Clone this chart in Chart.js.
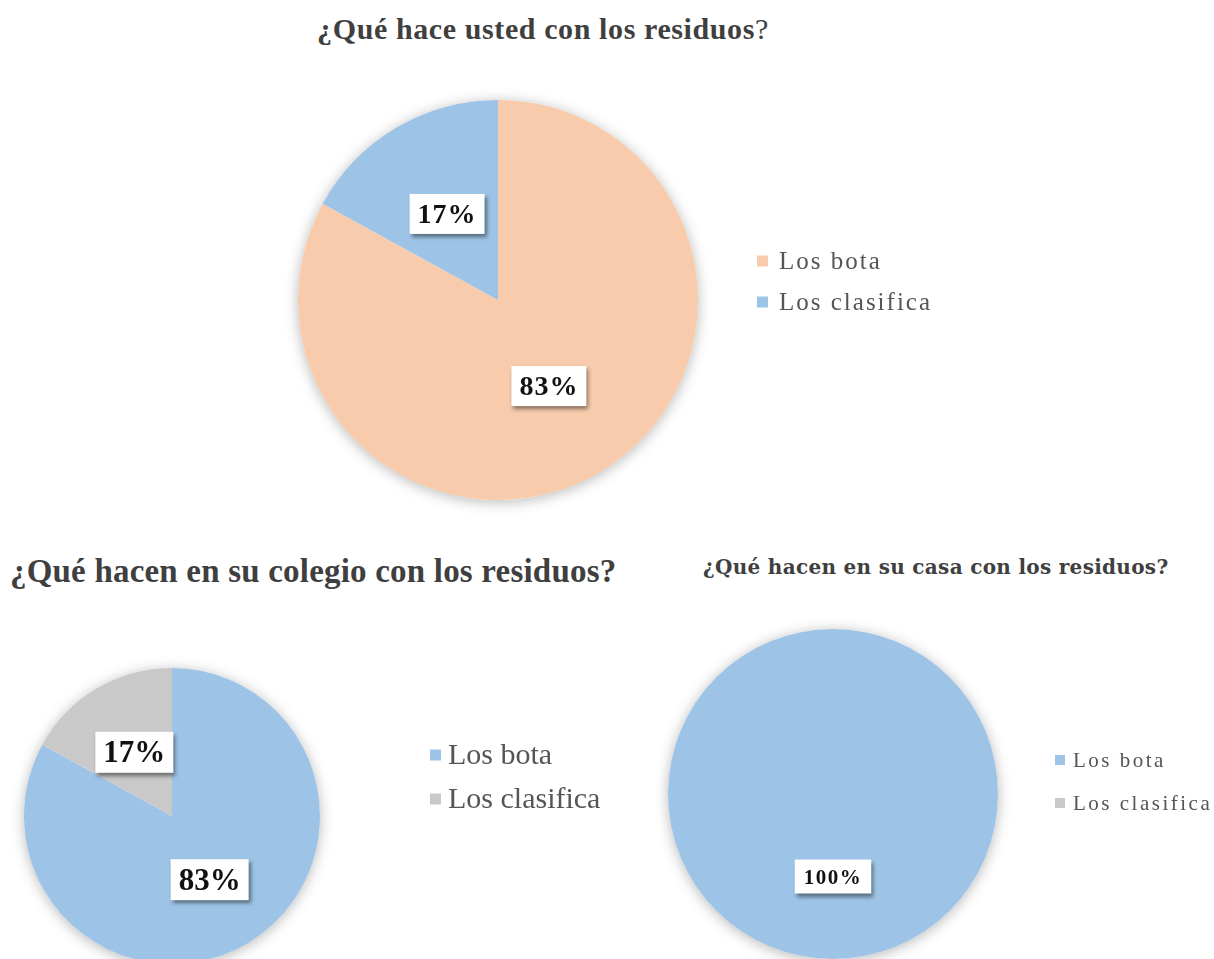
<!DOCTYPE html>
<html>
<head>
<meta charset="utf-8">
<script src="https://cdn.jsdelivr.net/npm/chart.js@4.4.0/dist/chart.umd.min.js"></script>
<style>
  html, body { margin: 0; padding: 0; background: #fff; width: 1214px; height: 959px; overflow: hidden; }
  body { position: relative; }
  .titulo { position: absolute; white-space: nowrap; font-family: 'Liberation Serif', serif; font-weight: bold; line-height: 1; color: #3f3f3f; }
  canvas { position: absolute; }
</style>
</head>
<body>
<div class="titulo" style="left:543px;top:14px;transform:translateX(-50%);font-size:30px;letter-spacing:0.6px">¿Qué hace usted con los residuos<span style="font-weight:normal">?</span></div>
<div class="titulo" style="left:10px;top:555px;font-size:33px;letter-spacing:0.2px">¿Qué hacen en su colegio con los residuos?</div>
<div class="titulo" style="left:703px;top:557px;font-size:20px;letter-spacing:0.3px;font-family:'DejaVu Serif',serif">¿Qué hacen en su casa con los residuos?</div>

<canvas id="graficoUsted" width="720" height="470" style="left:250px;top:70px;width:720px;height:470px"></canvas>
<canvas id="graficoColegio" width="700" height="370" style="left:0px;top:600px;width:700px;height:370px"></canvas>
<canvas id="graficoCasa" width="574" height="359" style="left:640px;top:600px;width:574px;height:359px"></canvas>

<script>
// datos
const categorias = ['Los bota', 'Los clasifica'];
const valoresUsted = [83, 17];
const valoresColegio = [83, 17];
const valoresCasa = [100, 0];

const coloresUsted = ['#F7CBAC', '#9DC3E6'];
const coloresColegio = ['#9DC3E6', '#C9C9C9'];

// sombra suave alrededor del pastel
const sombraPie = {
    id: 'sombraPie',
    beforeDatasetsDraw(chart) {
        const arc = chart.getDatasetMeta(0).data[0];
        if (!arc) return;
        const ctx = chart.ctx;
        ctx.save();
        ctx.shadowColor = 'rgba(0,0,0,0.28)';
        ctx.shadowBlur = 14;
        ctx.shadowOffsetY = 2;
        ctx.fillStyle = '#fff';
        ctx.beginPath();
        ctx.arc(arc.x, arc.y, arc.outerRadius, 0, Math.PI * 2);
        ctx.fill();
        ctx.restore();
    }
};

// etiquetas de porcentaje en cajas blancas
const etiquetas = {
    id: 'etiquetas',
    afterDatasetsDraw(chart, args, opts) {
        const ctx = chart.ctx;
        const valores = chart.data.datasets[0].data;
        chart.getDatasetMeta(0).data.forEach((arc, i) => {
            if (!valores[i]) return;
            const p = arc.tooltipPosition();
            const texto = valores[i] + '%';
            ctx.save();
            ctx.font = opts.font;
            ctx.letterSpacing = opts.spacing || '0px';
            const w = ctx.measureText(texto).width + opts.padX * 2;
            const h = opts.alto;
            ctx.shadowColor = 'rgba(0,0,0,0.45)';
            ctx.shadowBlur = 4;
            ctx.shadowOffsetX = 2;
            ctx.shadowOffsetY = 3;
            ctx.fillStyle = '#fff';
            ctx.fillRect(p.x - w / 2, p.y - h / 2, w, h);
            ctx.shadowColor = 'transparent';
            ctx.fillStyle = '#111';
            ctx.textAlign = 'center';
            ctx.textBaseline = 'middle';
            ctx.fillText(texto, p.x, p.y + 2);
            ctx.restore();
        });
    }
};

// leyenda a la derecha
const leyenda = {
    id: 'leyenda',
    afterDraw(chart, args, opts) {
        const ctx = chart.ctx;
        const colores = chart.data.datasets[0].backgroundColor;
        chart.data.labels.forEach((lab, i) => {
            const y = opts.y + i * opts.paso;
            ctx.save();
            ctx.fillStyle = colores[i];
            ctx.fillRect(opts.x, y - opts.caja / 2, opts.caja, opts.caja);
            ctx.font = opts.font;
            ctx.letterSpacing = opts.spacing || '0px';
            ctx.fillStyle = '#555';
            ctx.textBaseline = 'middle';
            ctx.fillText(lab, opts.x + opts.caja + opts.hueco, y + 1);
            ctx.restore();
        });
    }
};

function graficoPie(id, valores, colores, padding, optsEtiquetas, optsLeyenda) {
    const ctx = document.getElementById(id).getContext('2d');
    return new Chart(ctx, {
        type: 'pie',
        data: {
            labels: categorias,
            datasets: [{
                data: valores,
                backgroundColor: colores,
                borderWidth: 0,
                clip: false
            }]
        },
        options: {
            responsive: false,
            devicePixelRatio: 1,
            animation: false,
            layout: { padding: padding },
            plugins: {
                legend: { display: false },
                tooltip: { enabled: false },
                etiquetas: optsEtiquetas,
                leyenda: optsLeyenda
            }
        },
        plugins: [sombraPie, etiquetas, leyenda]
    });
}

graficoPie('graficoUsted', valoresUsted, coloresUsted,
    { left: 48, top: 30, right: 272, bottom: 40 },
    { font: 'bold 28px "Liberation Serif"', spacing: '1px', padX: 8, alto: 40 },
    { x: 507, y: 191, paso: 41, caja: 11, hueco: 11, font: '25px "Liberation Serif"', spacing: '2px' });

graficoPie('graficoColegio', valoresColegio, coloresColegio,
    { left: 24, top: 68, right: 380, bottom: 6 },
    { font: 'bold 31px "Liberation Serif"', padX: 8, alto: 41 },
    { x: 430, y: 155, paso: 44, caja: 11, hueco: 7, font: '30px "Liberation Serif"' });

graficoPie('graficoCasa', valoresCasa, coloresColegio,
    { left: 28, top: 29, right: 216, bottom: 0 },
    { font: 'bold 21px "Liberation Serif"', spacing: '1.5px', padX: 9, alto: 34 },
    { x: 415, y: 160, paso: 43, caja: 10, hueco: 8, font: '21px "Liberation Serif"', spacing: '2.5px' });
</script>
</body>
</html>
